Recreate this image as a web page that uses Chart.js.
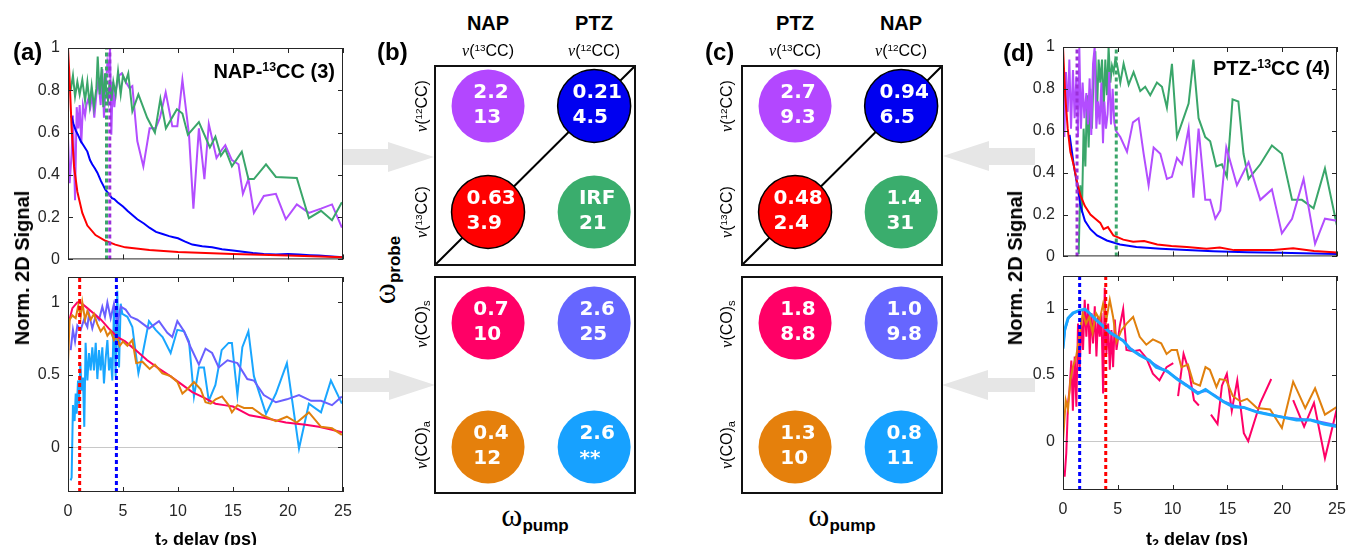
<!DOCTYPE html>
<html>
<head>
<meta charset="utf-8">
<script src="https://cdn.jsdelivr.net/npm/chart.js@4/dist/chart.umd.min.js"></script>
<style>
body { margin: 0; background: #fff; }
#fig { position: relative; width: 1348px; height: 545px; overflow: hidden; background: #fff;
       font-family: "Liberation Sans", Arial, sans-serif; color: #000; }
#fig canvas { position: absolute; }
.t { position: absolute; white-space: nowrap; line-height: 1; }
.b { font-weight: bold; }
.nu { font-family: "Liberation Serif", serif; font-style: italic; }
.om { font-family: "Liberation Serif", serif; }
.sup { font-size: 0.62em; position: relative; top: -0.55em; }
.sub { font-size: 0.7em; position: relative; top: 0.3em; }
.arrow { position: absolute; background: #e6e6e6; }
</style>
</head>
<body>
<div id="fig">
  <div class="arrow" style="left:343px;top:142px;width:91px;height:30px;clip-path:polygon(0 7px,45px 7px,45px 0,91px 15px,45px 30px,45px 23px,0 23px)"></div>
  <div class="arrow" style="left:343px;top:370px;width:92px;height:30px;clip-path:polygon(0 8px,46px 8px,46px 0,92px 15px,46px 30px,46px 22px,0 22px)"></div>
  <div class="arrow" style="left:943px;top:141px;width:92px;height:30px;clip-path:polygon(0 15px,46px 0,46px 7px,92px 7px,92px 24px,46px 24px,46px 30px)"></div>
  <div class="arrow" style="left:942px;top:370px;width:93px;height:30px;clip-path:polygon(0 15px,46px 0,46px 8px,93px 8px,93px 22px,46px 22px,46px 30px)"></div>

  <canvas id="aTop"></canvas>
  <canvas id="aBot"></canvas>
  <canvas id="bCC"></canvas>
  <canvas id="bCO"></canvas>
  <canvas id="cCC"></canvas>
  <canvas id="cCO"></canvas>
  <canvas id="dTop"></canvas>
  <canvas id="dBot"></canvas>
</div>
<script>
// ---------- (a) NAP-13CC, CC region: [t2 (ps), normalised signal] ----------
const aTopRed = [[0,1.0],[0.15,0.85],[0.33,0.62],[0.55,0.44],[0.85,0.32],[1.3,0.22],[1.76,0.16],[2.5,0.115],
  [3.4,0.088],[4.3,0.07],[5.2,0.057],[7.4,0.045],[10,0.035],[15,0.026],[20,0.018],[25,0.01]];
const aTopBlue = [[0.3,0.68],[0.5,0.64],[0.7,0.61],[0.9,0.59],[1.15,0.56],[1.4,0.54],[1.76,0.51],[2.0,0.47],
  [2.2,0.45],[2.45,0.43],[2.67,0.41],[3.0,0.37],[3.2,0.35],[3.4,0.33],[3.7,0.31],[4.0,0.29],[4.2,0.285],
  [4.5,0.27],[5,0.25],[5.4,0.23],[5.85,0.21],[6.3,0.19],[6.9,0.17],[7.4,0.15],[8,0.13],[8.6,0.12],[9.2,0.11],
  [9.6,0.105],[10,0.1],[10.6,0.085],[11.3,0.07],[12.2,0.062],[13.1,0.057],[14,0.048],[15,0.042],[15.9,0.036],
  [16.8,0.03],[17.8,0.026],[18.9,0.023],[20,0.025],[21,0.023],[22,0.02],[22.8,0.018],[24,0.014],[25,0.01]];
const aTopGreen = [[0.24,0.80],[0.45,0.87],[0.64,0.77],[0.85,0.84],[1.06,0.78],[1.3,0.85],[1.55,0.75],[1.76,0.84],
  [1.97,0.73],[2.15,0.82],[2.36,0.72],[2.58,0.81],[2.7,0.96],[2.88,0.78],[3.06,0.91],[3.21,0.72],[3.36,0.88],
  [3.48,0.80],[3.64,0.75],[3.79,0.85],[3.94,0.75],[4.12,0.84],[4.33,0.78],[4.55,0.89],[4.79,0.78],[5.0,0.87],
  [5.24,0.84],[5.48,0.88],[5.85,0.70],[6.4,0.78],[7.2,0.67],[7.9,0.60],[8.4,0.76],[8.9,0.62],[9.9,0.71],
  [10.4,0.69],[10.9,0.59],[11.9,0.65],[12.9,0.53],[13.4,0.58],[13.9,0.49],[14.3,0.52],[14.9,0.44],[15.8,0.51],
  [16.4,0.38],[16.9,0.38],[18.0,0.45],[18.9,0.39],[20.8,0.385],[21.9,0.195],[23.0,0.23],[24.0,0.185],[24.9,0.27]];
const aTopPurple = [[0,0.58],[0.15,0.36],[0.33,0.50],[0.45,0.68],[0.64,0.28],[0.79,0.72],[0.94,0.62],[1.06,0.73],
  [1.21,0.55],[1.36,0.73],[1.55,0.68],[1.67,0.73],[1.85,0.76],[2.03,0.72],[2.21,0.78],[2.39,0.67],[2.58,0.78],
  [2.76,0.85],[2.97,0.73],[3.12,0.90],[3.27,0.67],[3.42,0.81],[3.58,0.93],[3.73,0.88],[3.82,1.0],[3.94,0.59],
  [4.06,0.84],[4.21,0.72],[4.39,0.81],[4.64,0.87],[4.88,0.88],[5.24,0.84],[5.6,0.81],[5.85,0.82],[6.3,0.56],
  [6.85,0.44],[7.42,0.62],[7.97,0.62],[8.36,0.67],[8.88,0.79],[9.48,0.63],[9.94,0.63],[10.4,0.85],[11.0,0.59],
  [11.4,0.24],[11.9,0.62],[12.4,0.38],[12.8,0.64],[13.5,0.48],[14.0,0.52],[14.3,0.54],[14.9,0.47],[15.5,0.45],
  [15.9,0.31],[16.4,0.38],[16.9,0.22],[17.8,0.30],[18.9,0.31],[19.8,0.19],[20.8,0.26],[21.9,0.22],[23.0,0.24],
  [24.0,0.26],[24.9,0.15]];
const aTopMarks = [3.5, 3.8];   // green, purple

// ---------- (a) CO region ----------
const aBotPink = [[0,0.84],[0.4,0.96],[0.85,1.0],[1.3,0.99],[1.76,0.96],[2.4,0.92],[3,0.88],[3.7,0.82],[4.5,0.76],
  [5.2,0.73],[6.15,0.67],[7.2,0.6],[8.3,0.54],[9.3,0.49],[10.4,0.43],[11.3,0.38],[12.4,0.34],[13.4,0.3],
  [14.2,0.29],[15,0.28],[16.5,0.22],[18,0.2],[19.8,0.17],[21.6,0.155],[22.8,0.14],[24,0.12],[25,0.1]];
const aBotOrange = [[0,0.58],[0.15,0.88],[0.39,0.91],[0.7,0.89],[0.94,0.98],[1.15,0.90],[1.3,1.0],[1.55,0.88],
  [1.76,0.94],[2.06,0.88],[2.36,0.92],[2.67,0.85],[2.97,0.80],[3.27,0.83],[3.58,0.77],[3.88,0.80],[4.18,0.74],
  [4.39,0.77],[4.7,0.70],[5.0,0.73],[5.4,0.70],[5.85,0.74],[6.2,0.58],[6.76,0.59],[7.42,0.54],[7.9,0.57],
  [8.58,0.51],[9.33,0.49],[9.94,0.45],[10.4,0.37],[10.85,0.40],[11.45,0.45],[12.06,0.40],[12.5,0.31],
  [12.97,0.30],[13.42,0.33],[14.0,0.35],[14.6,0.29],[14.9,0.24],[15.4,0.29],[16.0,0.27],[16.76,0.27],
  [17.7,0.22],[18.9,0.18],[19.9,0.21],[20.8,0.17],[21.9,0.24],[23.0,0.14],[24.0,0.13],[24.9,0.085]];
const aBotSlate = [[0.24,0.67],[0.45,0.81],[0.64,0.73],[0.85,0.84],[1.15,0.81],[1.45,0.88],[1.76,0.83],[1.91,0.92],
  [2.21,0.82],[2.52,0.91],[2.82,0.88],[3.12,0.97],[3.36,0.90],[3.58,1.0],[3.88,0.89],[4.18,0.99],[4.48,0.85],
  [4.79,0.97],[5.24,0.95],[5.7,0.90],[6.3,0.88],[7.36,0.82],[8.27,0.87],[9.03,0.79],[9.48,0.76],[9.94,0.87],
  [10.55,0.80],[11.15,0.69],[11.9,0.57],[12.5,0.68],[13.1,0.65],[13.7,0.55],[14.5,0.60],[15.4,0.58],[16.3,0.47],
  [16.9,0.46],[17.8,0.36],[18.9,0.31],[19.9,0.33],[21.0,0.36],[22.1,0.32],[23.0,0.32],[24.0,0.29],[24.9,0.35]];
const aBotCyan = [[0.24,-0.23],[0.33,-0.21],[0.45,0.29],[0.6,0.18],[0.7,0.37],[0.79,0.23],[0.91,0.46],[1.0,0.30],
  [1.12,0.58],[1.24,0.39],[1.36,0.48],[1.48,0.14],[1.6,0.72],[1.76,0.46],[1.91,0.65],[2.06,0.53],[2.21,0.69],
  [2.36,0.53],[2.52,0.72],[2.67,0.47],[2.82,0.67],[2.97,0.53],[3.12,0.69],[3.27,0.44],[3.42,0.61],[3.58,0.74],
  [3.73,0.53],[3.88,0.62],[4.03,0.46],[4.18,0.97],[4.33,0.49],[4.48,1.08],[4.64,0.55],[4.79,0.99],[4.94,0.92],
  [5.4,0.90],[5.85,0.83],[6.4,0.51],[6.8,0.65],[7.36,0.87],[7.97,0.81],[8.6,0.76],[9.33,0.65],[9.94,0.81],
  [10.55,0.80],[11.0,0.73],[11.45,0.35],[11.9,0.55],[12.36,0.55],[12.8,0.32],[13.4,0.43],[13.97,0.67],
  [14.6,0.72],[14.9,0.72],[15.4,0.36],[15.85,0.69],[16.4,0.80],[16.9,0.49],[18.0,0.23],[18.9,0.37],[19.9,0.58],
  [21.0,-0.01],[21.9,0.30],[23.0,0.24],[23.9,0.46],[24.9,0.30]];
const aBotMarks = [1.06, 4.4];   // red, blue

// ---------- (d) PTZ-13CC, CC region ----------
const dTopRed = [[0,1.0],[0.2,0.77],[0.43,0.61],[0.67,0.5],[1,0.43],[1.3,0.35],[1.6,0.29],[2,0.24],[2.5,0.2],
  [2.95,0.18],[3.4,0.16],[3.7,0.13],[4.1,0.14],[4.6,0.1],[5.5,0.08],[6.4,0.07],[7.4,0.073],[8.6,0.057],
  [9.9,0.05],[11.3,0.045],[13.1,0.037],[14.3,0.042],[15.6,0.03],[17.4,0.03],[19.2,0.031],[21,0.039],
  [22.9,0.026],[25,0.019]];
const dTopBlue = [[0.6,0.58],[1,0.43],[1.3,0.34],[1.6,0.24],[2,0.17],[2.5,0.13],[3.1,0.1],[4,0.076],[5.2,0.057],
  [6.7,0.045],[8.9,0.037],[11.3,0.03],[13.7,0.025],[16.8,0.02],[19.8,0.017],[22.9,0.014],[25,0.012]];
const dTopGreen = [[1.43,0.01],[1.58,0.34],[1.73,0.21],[1.88,0.61],[2.04,0.43],[2.19,0.77],[2.34,0.52],[2.49,0.80],
  [2.64,0.61],[2.8,0.88],[2.95,0.98],[3.1,0.68],[3.25,0.94],[3.4,0.83],[3.56,0.94],[3.71,0.69],[3.86,0.94],
  [4.01,0.77],[4.16,1.0],[4.32,0.83],[4.47,0.91],[4.62,0.88],[4.77,0.94],[4.92,0.92],[5.23,0.83],[5.53,0.92],
  [5.99,0.82],[6.44,0.88],[7.05,0.79],[7.5,0.81],[7.96,0.77],[8.57,0.83],[9.03,0.81],[9.48,0.71],[9.94,0.92],
  [10.4,0.57],[11.0,0.66],[11.46,0.73],[11.9,0.94],[12.37,0.66],[12.98,0.57],[13.43,0.55],[13.98,0.43],
  [14.5,0.44],[14.95,0.38],[15.47,0.75],[16.0,0.74],[16.47,0.49],[16.93,0.37],[18.0,0.44],[19.06,0.53],
  [19.97,0.49],[20.9,0.27],[21.8,0.27],[22.86,0.23],[23.9,0.42],[24.98,0.15]];
const dTopPurple = [[0,0.88],[0.12,0.57],[0.27,0.88],[0.43,0.69],[0.58,0.94],[0.73,0.61],[0.91,0.89],[1.06,0.66],
  [1.22,0.86],[1.37,0.57],[1.49,1.0],[1.64,0.61],[1.79,0.83],[1.95,0.66],[2.13,0.78],[2.28,0.63],[2.43,0.85],
  [2.58,0.58],[2.74,0.92],[2.89,1.0],[3.04,0.61],[3.19,0.74],[3.34,0.63],[3.5,0.83],[3.65,0.54],[3.77,0.74],
  [3.92,0.61],[4.07,0.68],[4.22,0.88],[4.38,0.63],[4.53,0.80],[4.68,0.64],[4.83,0.60],[5.23,0.57],[5.84,0.50],
  [6.38,0.64],[6.9,0.66],[7.36,0.49],[7.81,0.34],[8.27,0.52],[8.88,0.49],[9.48,0.37],[9.94,0.38],[10.4,0.47],
  [10.85,0.44],[11.46,0.61],[11.9,0.28],[12.37,0.61],[12.98,0.27],[13.43,0.27],[13.9,0.18],[14.35,0.22],
  [14.9,0.52],[15.87,0.34],[16.93,0.45],[18.0,0.27],[19.06,0.32],[19.97,0.11],[20.9,0.18],[21.95,0.37],
  [23.0,0.06],[23.9,0.18],[24.98,0.17]];
const dTopMarks = [1.28, 4.86];   // purple, green

// ---------- (d) CO region ----------
const dBotCyan = [[0,0.7],[0.15,0.84],[0.46,0.93],[0.9,0.97],[1.5,0.99],[2,1.0],[2.4,0.97],[3,0.92],[3.66,0.87],
  [4.3,0.82],[4.9,0.79],[5.5,0.76],[6.1,0.7],[7,0.65],[7.9,0.61],[8.5,0.56],[9.5,0.53],[10.4,0.47],[11.3,0.42],
  [12.3,0.36],[13,0.39],[13.7,0.35],[14.6,0.3],[15.5,0.26],[16.5,0.255],[17.7,0.22],[18.9,0.2],[20.1,0.18],
  [21.3,0.16],[22.6,0.16],[23.8,0.13],[25,0.11]];
const dBotSlate = [[0,0.71],[0.2,0.85],[0.5,0.93],[1,0.97],[1.6,0.99],[2.1,0.99],[2.5,0.96],[3.1,0.91],[3.7,0.87],
  [4.4,0.82],[5,0.79],[5.6,0.75],[6.2,0.7],[7.1,0.65],[8,0.6],[8.6,0.57],[9.6,0.52],[10.5,0.47],[11.4,0.42],
  [12.3,0.37],[13.1,0.38],[13.8,0.35],[14.7,0.3],[15.6,0.27],[16.6,0.25],[17.8,0.22],[19,0.2],[20.2,0.18],
  [21.4,0.17],[22.7,0.16],[23.9,0.14],[25,0.12]];
const dBotOrange = [[0,0.0],[0.25,0.31],[0.46,0.24],[0.67,0.46],[0.9,0.56],[1.2,0.64],[1.5,0.79],[1.8,0.97],
  [2.1,0.89],[2.4,0.94],[2.7,0.82],[3.0,0.97],[3.35,0.92],[3.66,1.04],[3.96,0.92],[4.27,1.07],[4.57,0.94],
  [4.88,0.75],[5.34,0.84],[5.8,0.89],[6.4,0.94],[7.0,0.79],[7.6,0.73],[8.2,0.77],[8.96,0.74],[9.45,0.66],
  [9.9,0.69],[10.4,0.69],[10.8,0.56],[11.4,0.58],[11.9,0.44],[12.5,0.42],[13.0,0.56],[13.4,0.54],[14.0,0.41],
  [14.3,0.47],[14.9,0.46],[15.5,0.34],[16.2,0.3],[16.8,0.32],[17.7,0.25],[18.9,0.24],[19.97,0.1],[21.0,0.45],
  [22.1,0.25],[23.0,0.4],[23.9,0.2],[25,0.26]];
const dBotPink = [[0.15,-0.27],[0.3,-0.09],[0.46,0.29],[0.6,0.39],[0.76,0.61],[0.9,0.23],[1.07,0.64],[1.22,0.26],
  [1.37,0.89],[1.52,0.54],[1.68,0.92],[1.83,0.69],[1.98,1.07],[2.13,0.79],[2.29,1.04],[2.44,0.66],[2.59,0.97],
  [2.74,0.74],[2.9,1.02],[3.05,0.64],[3.2,0.94],[3.35,0.79],[3.51,0.97],[3.66,0.36],[3.81,1.16],[3.96,0.66],
  [4.12,0.89],[4.27,0.54],[4.42,0.84],[4.57,0.56],[4.73,0.92],[4.88,0.69],[5.18,0.87],[5.49,1.0],[5.79,0.69],
  [6.4,0.68],[7.0,0.69],[7.6,0.63],[8.2,0.51],[8.8,0.46],[9.45,0.56],[10.06,0.59],[10.3,null],[10.5,0.34],
  [11.0,0.66],[11.5,0.53],[11.95,0.31],[12.4,0.27],[13.0,null],[13.5,0.2],[14.1,0.13],[14.5,0.42],[14.95,0.51],
  [15.4,0.23],[15.9,0.46],[16.5,0.06],[16.9,0.0],[18.0,0.29],[19.0,0.47],[20.0,null],[21.0,0.31],[22.0,0.11],
  [22.9,0.29],[23.9,-0.13],[25,0.25]];
const dBotMarks = [1.52, 3.9];   // blue, red

// ---------- (b)/(c) cross-peak tables: upper / lower number in each cell ----------
// cell order: top-left, top-right, bottom-left, bottom-right
const bPumps = ['NAP', 'PTZ'];
const cPumps = ['PTZ', 'NAP'];
const bCCUpper = ['2.2', '0.21', '0.63', 'IRF'];
const bCCLower = ['13', '4.5', '3.9', '21'];
const bCOUpper = ['0.7', '2.6', '0.4', '2.6'];
const bCOLower = ['10', '25', '12', '**'];
const cCCUpper = ['2.7', '0.94', '0.48', '1.4'];
const cCCLower = ['9.3', '6.5', '2.4', '31'];
const cCOUpper = ['1.8', '1.0', '1.3', '0.8'];
const cCOLower = ['8.8', '9.8', '10', '11'];

const INK = '#262626';
const TICK_FONT = { family: '"Liberation Sans", Arial, sans-serif', size: 16 };
const pt = arr => arr.map(([x, y]) => ({ x: x, y: y }));
const plainNum = v => String(Number(v.toFixed(2)));

// box frame with inward ticks on all four sides
const axesBox = {
  id: 'axesBox',
  afterDatasetsDraw(chart) {
    const { ctx, chartArea: a, scales } = chart;
    ctx.save();
    ctx.strokeStyle = INK;
    ctx.lineWidth = 1;
    ctx.beginPath();
    scales.x.ticks.forEach(t => {
      const px = Math.round(scales.x.getPixelForValue(t.value)) + 0.5;
      ctx.moveTo(px, a.bottom); ctx.lineTo(px, a.bottom - 5);
      ctx.moveTo(px, a.top); ctx.lineTo(px, a.top + 5);
    });
    scales.y.ticks.forEach(t => {
      const py = Math.round(scales.y.getPixelForValue(t.value)) + 0.5;
      ctx.moveTo(a.left, py); ctx.lineTo(a.left + 5, py);
      ctx.moveTo(a.right, py); ctx.lineTo(a.right - 5, py);
    });
    ctx.stroke();
    ctx.strokeRect(a.left + 0.5, a.top + 0.5, a.right - a.left - 1, a.bottom - a.top - 1);
    ctx.restore();
  }
};

function trace(arr, color, width) {
  return { data: pt(arr), borderColor: color, borderWidth: width || 2, spanGaps: false };
}

function marker(t, yMin, yMax, color) {
  return { data: [{ x: t, y: yMin }, { x: t, y: yMax }], borderColor: color, borderWidth: 3, borderDash: [4, 3] };
}

function traceChart(id, area, yMin, yMax, yStep, showX, datasets) {
  const pad = 20, yw = 70, xh = showX ? 40 : 12;
  const cv = document.getElementById(id);
  cv.width = area.right - area.left + yw + pad;
  cv.height = area.bottom - area.top + pad + xh;
  cv.style.left = (area.left - yw) + 'px';
  cv.style.top = (area.top - pad) + 'px';
  new Chart(cv, {
    type: 'line',
    data: { datasets: datasets },
    options: {
      responsive: false,
      animation: false,
      events: [],
      layout: { autoPadding: false, padding: { top: pad, right: pad, left: 0, bottom: 0 } },
      plugins: { legend: { display: false }, tooltip: { enabled: false } },
      elements: { point: { radius: 0 }, line: { tension: 0 } },
      scales: {
        x: {
          type: 'linear', min: 0, max: 25,
          ticks: { stepSize: 5, display: showX, color: INK, font: TICK_FONT, padding: 2, maxRotation: 0 },
          grid: { display: false },
          border: { display: false },
          afterFit: s => { s.height = xh; }
        },
        y: {
          type: 'linear', min: yMin, max: yMax,
          ticks: { stepSize: yStep, includeBounds: false, color: INK, font: TICK_FONT, padding: 8, callback: plainNum },
          grid: { color: c => (showX && c.tick.value === 0) ? '#c8c8c8' : 'rgba(0,0,0,0)', drawTicks: false },
          border: { display: false },
          afterFit: s => { s.width = yw; }
        }
      }
    },
    plugins: [axesBox]
  });
}

// ---------- panel (a) ----------
const aTopArea = { left: 68, top: 48, right: 343, bottom: 265 };
const aBotArea = { left: 68, top: 277, right: 343, bottom: 492 };
traceChart('aTop', aTopArea, 0, 1, 0.2, false, [
  marker(aTopMarks[1], 0, 1, '#9b30d9'),
  marker(aTopMarks[0], 0, 1, '#3aa66a'),
  trace(aTopRed, '#ff0000'),
  trace(aTopBlue, '#0000ff'),
  trace(aTopGreen, '#3aa66a'),
  trace(aTopPurple, '#b34dff')
]);
traceChart('aBot', aBotArea, -0.31, 1.175, 0.5, true, [
  marker(aBotMarks[0], -0.31, 1.175, '#ff0000'),
  marker(aBotMarks[1], -0.31, 1.175, '#0000ff'),
  trace(aBotOrange, '#e0800d'),
  trace(aBotPink, '#ff0066'),
  trace(aBotSlate, '#6a5fff'),
  trace(aBotCyan, '#19a6ff')
]);

// ---------- panel (d) ----------
const dTopArea = { left: 1063, top: 47, right: 1337, bottom: 262 };
const dBotArea = { left: 1063, top: 276, right: 1337, bottom: 490 };
traceChart('dTop', dTopArea, 0, 1, 0.2, false, [
  marker(dTopMarks[0], 0, 1, '#9b30d9'),
  marker(dTopMarks[1], 0, 1, '#3aa66a'),
  trace(dTopRed, '#ff0000'),
  trace(dTopBlue, '#0000ff'),
  trace(dTopPurple, '#b34dff'),
  trace(dTopGreen, '#3aa66a')
]);
traceChart('dBot', dBotArea, -0.37, 1.25, 0.5, true, [
  marker(dBotMarks[0], -0.37, 1.25, '#0000ff'),
  marker(dBotMarks[1], -0.37, 1.25, '#ff0000'),
  trace(dBotCyan, '#19a6ff', 3),
  trace(dBotSlate, '#6a5fff', 2),
  trace(dBotOrange, '#e0800d'),
  trace(dBotPink, '#ff0066')
]);

// ---------- panels (b) and (c): cells drawn as bubbles ----------
function cellFrame(diagonal) {
  return {
    id: 'cellFrame',
    beforeDatasetsDraw(chart) {
      if (!diagonal) return;
      const { ctx, chartArea: a } = chart;
      ctx.save();
      ctx.strokeStyle = '#000';
      ctx.lineWidth = 2;
      ctx.beginPath();
      ctx.moveTo(a.left, a.bottom);
      ctx.lineTo(a.right, a.top);
      ctx.stroke();
      ctx.restore();
    },
    afterDraw(chart) {
      const { ctx, chartArea: a } = chart;
      ctx.save();
      ctx.strokeStyle = '#111';
      ctx.lineWidth = 2;
      ctx.strokeRect(a.left, a.top, a.right - a.left, a.bottom - a.top);
      ctx.restore();
    }
  };
}

function cellText(upper, lower) {
  return {
    id: 'cellText',
    afterDatasetsDraw(chart) {
      const ctx = chart.ctx;
      ctx.save();
      ctx.fillStyle = '#fff';
      ctx.font = 'bold 20px "DejaVu Sans", Verdana, sans-serif';
      ctx.textBaseline = 'middle';
      chart.getDatasetMeta(0).data.forEach((p, i) => {
        const left = p.x - ctx.measureText(upper[i]).width / 2 + 3;
        ctx.fillText(upper[i], left, p.y - 13);
        ctx.fillText(lower[i], left, p.y + 12);
      });
      ctx.restore();
    }
  };
}

function cellChart(id, area, yMin, yMax, upper, lower, colors, diagonal) {
  const pad = 4;
  const cv = document.getElementById(id);
  cv.width = area.right - area.left + 2 * pad;
  cv.height = area.bottom - area.top + 2 * pad;
  cv.style.left = (area.left - pad) + 'px';
  cv.style.top = (area.top - pad) + 'px';
  new Chart(cv, {
    type: 'bubble',
    data: {
      datasets: [{
        data: upper.map((_, i) => ({ x: i % 2, y: 1 - Math.floor(i / 2) })),
        backgroundColor: colors,
        borderColor: '#000',
        // cells on the diagonal carry a black rim
        borderWidth: upper.map((_, i) => (diagonal && (i === 1 || i === 2)) ? 1.5 : 0),
        radius: 36.5,
        hoverRadius: 0
      }]
    },
    options: {
      responsive: false,
      animation: false,
      events: [],
      layout: { autoPadding: false, padding: pad },
      plugins: { legend: { display: false }, tooltip: { enabled: false } },
      scales: {
        x: { type: 'linear', display: false, min: -0.5, max: 1.385 },
        y: { type: 'linear', display: false, min: yMin, max: yMax }
      }
    },
    plugins: [cellFrame(diagonal), cellText(upper, lower)]
  });
}

const ccColors = ['#b347ff', '#0000f0', '#ff0000', '#3aad6d'];
const coColors = ['#ff0066', '#6666ff', '#e5800c', '#17a1ff'];
cellChart('bCC', { left: 435, top: 66, right: 635, bottom: 265 }, -0.5, 1.377, bCCUpper, bCCLower, ccColors, true);
cellChart('bCO', { left: 435, top: 277, right: 635, bottom: 493 }, -0.371, 1.371, bCOUpper, bCOLower, coColors, false);
cellChart('cCC', { left: 742, top: 66, right: 942, bottom: 265 }, -0.5, 1.377, cCCUpper, cCCLower, ccColors, true);
cellChart('cCO', { left: 742, top: 277, right: 942, bottom: 493 }, -0.371, 1.371, cCOUpper, cCOLower, coColors, false);

// ---------- text ----------
const fig = document.getElementById('fig');
function addText(html, x, base, size, align, cls) {
  const d = document.createElement('div');
  d.className = 't ' + (cls || '');
  d.innerHTML = html;
  d.style.fontSize = size + 'px';
  d.style.left = x + 'px';
  d.style.top = (base - 0.85 * size) + 'px';
  if (align === 'center') d.style.transform = 'translateX(-50%)';
  if (align === 'right') d.style.transform = 'translateX(-100%)';
  fig.appendChild(d);
}
function addVertical(html, cx, cy, size, cls) {
  const d = document.createElement('div');
  d.className = 't ' + (cls || '');
  d.innerHTML = html;
  d.style.fontSize = size + 'px';
  d.style.left = cx + 'px';
  d.style.top = cy + 'px';
  d.style.transform = 'translate(-50%, -50%) rotate(-90deg)';
  fig.appendChild(d);
}

const NU = '<span class="nu">ν</span>';
const cc12 = NU + '(<span class="sup">12</span>CC)';
const cc13 = NU + '(<span class="sup">13</span>CC)';
const coS = NU + '(CO)<span class="sub">s</span>';
const coA = NU + '(CO)<span class="sub">a</span>';

addText('(a)', 13, 60, 24, 'left', 'b');
addText('(b)', 377, 60, 24, 'left', 'b');
addText('(c)', 705, 60, 24, 'left', 'b');
addText('(d)', 1003, 61, 24, 'left', 'b');

addText('NAP-<span class="sup">13</span>CC (3)', 335, 78, 20, 'right', 'b');
addText('PTZ-<span class="sup">13</span>CC (4)', 1330, 75, 20, 'right', 'b');

addVertical('Norm. 2D Signal', 22, 268, 20, 'b');
addVertical('Norm. 2D Signal', 1015, 268, 20, 'b');
addText('t<span class="sub">2</span> delay (ps)', 206, 545, 18, 'center', 'b');
addText('t<span class="sub">2</span> delay (ps)', 1197, 545, 18, 'center', 'b');

[[bPumps, 488, 594], [cPumps, 795, 901]].forEach(([names, x0, x1]) => {
  addText(names[0], x0, 30, 20, 'center', 'b');
  addText(names[1], x1, 30, 20, 'center', 'b');
  addText(cc13, x0, 57, 16, 'center');
  addText(cc12, x1, 57, 16, 'center');
});
[422, 727].forEach(x => {
  addVertical(cc12, x, 106, 16);
  addVertical(cc13, x, 212, 16);
  addVertical(coS, x, 324, 16);
  addVertical(coA, x, 445, 16);
});
const omega = sub => '<span class="om" style="font-size:32px">ω</span>' +
  '<span class="b" style="font-size:17px;position:relative;top:5px">' + sub + '</span>';
addVertical(omega('probe'), 384, 270, 32);
addText(omega('pump'), 535, 526, 32, 'center');
addText(omega('pump'), 842, 526, 32, 'center');
</script>
</body>
</html>
